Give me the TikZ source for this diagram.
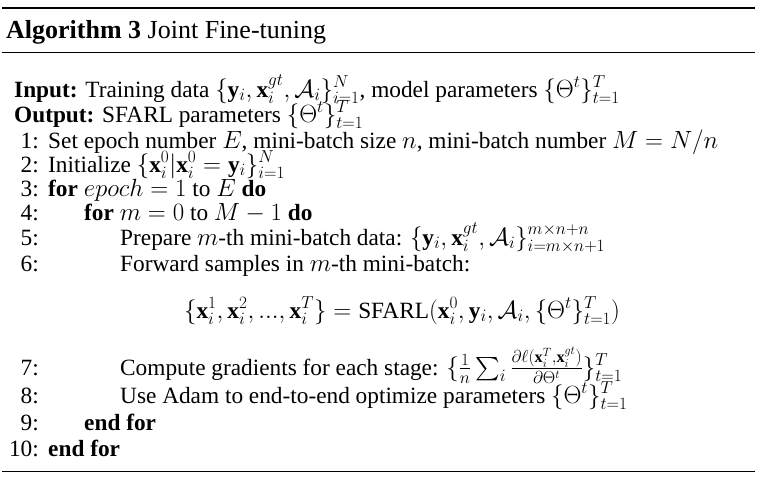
\documentclass[tikz,border=0pt]{standalone}
\usepackage{amsmath,amssymb}
\usepackage{fontspec}
\setmainfont{Liberation Serif}
\begin{document}
\begin{tikzpicture}[x=1pt,y=-1pt,
  txt/.style={anchor=base west,inner sep=0pt,font=\fontsize{23.3}{27}\selectfont},
  num/.style={anchor=base east,inner sep=0pt,font=\fontsize{23.3}{27}\selectfont}]
\useasboundingbox (0,0) rectangle (761,482);
\draw[line width=1.6pt] (2,8) -- (755,8);
\draw[line width=0.9pt] (2,52) -- (755,52);
\draw[line width=0.9pt] (2,471) -- (755,471);
\node[txt] (title) at (6,38) {\fontsize{26}{30}\selectfont\textbf{Algorithm 3} Joint Fine-tuning};
\node[txt] (in) at (14,97) {\textbf{Input:} Training data $\{\mathbf{y}_i,\mathbf{x}_i^{gt},\mathcal{A}_i\}_{i=1}^{N}$, model parameters $\{\Theta^t\}_{t=1}^{T}$};
\node[txt] (out) at (14,122) {\textbf{Output:} SFARL parameters $\{\Theta^t\}_{t=1}^{T}$};
\node[num] (n1) at (39,148) {1:};
\node[txt] (l1) at (48,148) {Set epoch number $E$, mini-batch size $n$, mini-batch number $M=N/n$};
\node[num] (n2) at (39,172) {2:};
\node[txt] (l2) at (48,172) {Initialize $\{\mathbf{x}_i^0|\mathbf{x}_i^0=\mathbf{y}_i\}_{i=1}^{N}$};
\node[num] (n3) at (39,196) {3:};
\node[txt] (l3) at (48,196) {\textbf{for} $epoch=1$ to $E$ \textbf{do}};
\node[num] (n4) at (39,220) {4:};
\node[txt] (l4) at (84,220) {\textbf{for} $m=0$ to $M-1$ \textbf{do}};
\node[num] (n5) at (39,245) {5:};
\node[txt] (l5) at (120,245) {Prepare $m$-th mini-batch data: $\{\mathbf{y}_i,\mathbf{x}_i^{gt},\mathcal{A}_i\}_{i=m\times n+1}^{m\times n+n}$};
\node[num] (n6) at (39,271) {6:};
\node[txt] (l6) at (120,271) {Forward samples in $m$-th mini-batch:};
\node[txt,anchor=base] (d) at (402,318) {$\{\mathbf{x}_i^1,\mathbf{x}_i^2,...,\mathbf{x}_i^T\}=\text{SFARL}(\mathbf{x}_i^0,\mathbf{y}_i,\mathcal{A}_i,\{\Theta^t\}_{t=1}^{T})$};
\node[num] (n7) at (39,375) {7:};
\node[txt] (l7) at (120,375) {Compute gradients for each stage: $\{\frac{1}{n}\sum_i\frac{\partial\ell(\mathbf{x}_i^T,\mathbf{x}_i^{gt})}{\partial\Theta^t}\}_{t=1}^{T}$};
\node[num] (n8) at (39,403) {8:};
\node[txt] (l8) at (120,403) {Use Adam to end-to-end optimize parameters $\{\Theta^t\}_{t=1}^{T}$};
\node[num] (n9) at (39,430) {9:};
\node[txt] (l9) at (84,430) {\textbf{end for}};
\node[num] (n10) at (39,456) {10:};
\node[txt] (l10) at (48,456) {\textbf{end for}};
\end{tikzpicture}
\end{document}
